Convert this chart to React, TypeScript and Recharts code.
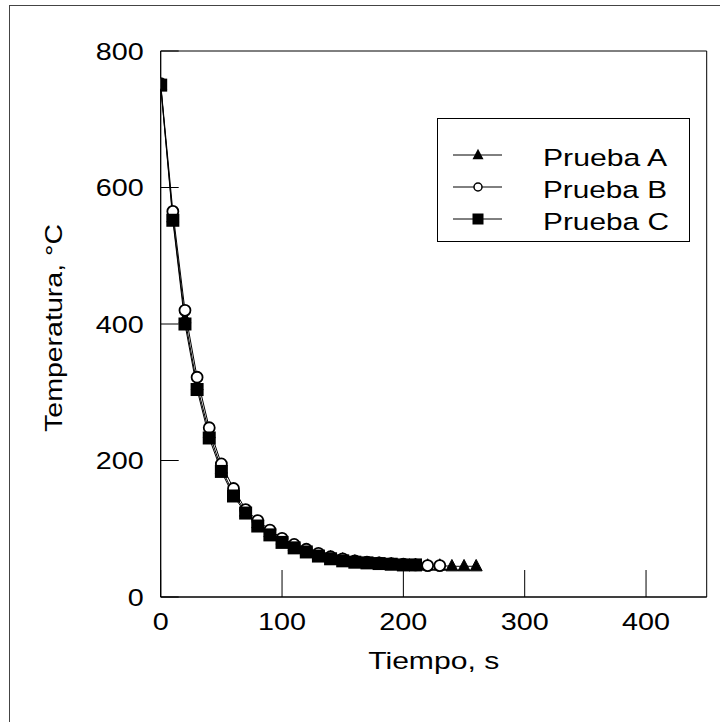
import React from 'react';
import { LineChart, Line, XAxis, YAxis, Legend, ReferenceArea } from 'recharts';

const times = [0, 10, 20, 30, 40, 50, 60, 70, 80, 90, 100, 110, 120, 130, 140, 150, 160, 170, 180, 190, 200, 210, 220, 230, 240, 250, 260];
const pruebaA = [750, 556, 408, 310, 240, 188, 152, 125, 108, 95, 84, 75, 68, 62, 58, 55, 52, 50, 49, 48, 47, 47, 46, 46, 45, 45, 45];
const pruebaB = [752, 565, 420, 322, 248, 195, 159, 128, 112, 98, 86, 77, 70, 64, 59, 56, 53, 51, 50, 49, 48, 47, 46, 46];
const pruebaC = [750, 552, 400, 304, 233, 184, 148, 123, 104, 91, 80, 72, 66, 60, 56, 53, 51, 50, 49, 48, 47, 47];
const xTicks = [0, 100, 200, 300, 400];
const yTicks = [0, 200, 400, 600, 800];
const xDomain = [0, 450];
const yDomain = [0, 800];
const seriesNames = ['Prueba A', 'Prueba B', 'Prueba C'];
const xTitle = 'Tiempo, s';
const yTitle = 'Temperatura, °C';

const data = times.map((t, i) => ({
  t,
  A: pruebaA[i] ?? null,
  B: pruebaB[i] ?? null,
  C: pruebaC[i] ?? null,
}));

const FONT = '"Liberation Sans", Arial, sans-serif';

const YTick = (props: any) => {
  const { x, y, payload } = props;
  const s = String(payload.value);
  return (
    <g>
      <line x1={x} y1={y} x2={x + 18} y2={y} stroke="#000" strokeWidth={1} />
      <text x={x - 17} y={y + 8.5} textAnchor="end" fontSize={24} fontFamily={FONT} fill="#000"
        textLength={16 * s.length} lengthAdjust="spacingAndGlyphs">{s}</text>
    </g>
  );
};

const XTick = (props: any) => {
  const { x, y, payload } = props;
  const s = String(payload.value);
  return (
    <g>
      <line x1={x} y1={y} x2={x} y2={y - 27} stroke="#000" strokeWidth={1} />
      <text x={x} y={y + 33} textAnchor="middle" fontSize={24} fontFamily={FONT} fill="#000"
        textLength={16 * s.length} lengthAdjust="spacingAndGlyphs">{s}</text>
    </g>
  );
};

const XLabel = (props: any) => {
  const vb = props.viewBox || {};
  const cx = vb.x + vb.width / 2;
  return (
    <text x={cx} y={vb.y + 72} textAnchor="middle" fontSize={24.5} fontFamily={FONT} fill="#000"
      textLength={131} lengthAdjust="spacingAndGlyphs">{xTitle}</text>
  );
};

const YLabel = (props: any) => {
  const vb = props.viewBox || {};
  const cy = vb.y + vb.height / 2 + 4;
  const bx = 61.5;
  return (
    <text x={bx} y={cy} transform={`rotate(-90, ${bx}, ${cy})`} textAnchor="middle" fontSize={24.5}
      fontFamily={FONT} fill="#000" textLength={208} lengthAdjust="spacingAndGlyphs">{yTitle}</text>
  );
};

const triangle = (cx: number, cy: number, w: number) => {
  const h = w * 0.95;
  return `${cx},${cy - h * 0.6} ${cx - w / 2},${cy + h * 0.4} ${cx + w / 2},${cy + h * 0.4}`;
};

const TriDot = (props: any) => {
  const { cx, cy, index } = props;
  if (cx == null || cy == null || props.value == null) return <g key={`a${index}`} />;
  return <polygon key={`a${index}`} points={triangle(cx, cy, 12)} fill="#000" stroke="#000" strokeWidth={1} />;
};

const CircDot = (props: any) => {
  const { cx, cy, index } = props;
  if (cx == null || cy == null || props.value == null) return <g key={`b${index}`} />;
  return <circle key={`b${index}`} cx={cx} cy={cy} r={5.5} fill="#fff" stroke="#000" strokeWidth={1.8} />;
};

const SqDot = (props: any) => {
  const { cx, cy, index } = props;
  if (cx == null || cy == null || props.value == null) return <g key={`c${index}`} />;
  return <rect key={`c${index}`} x={cx - 6.5} y={cy - 6.5} width={13} height={13} fill="#000" />;
};

const LegendBox = () => {
  const rows = [
    { name: seriesNames[0], ty: 39, ly: 37, kind: 'tri' },
    { name: seriesNames[1], ty: 71, ly: 69, kind: 'circ' },
    { name: seriesNames[2], ty: 103, ly: 101, kind: 'sq' },
  ];
  return (
    <svg width={254} height={125} style={{ display: 'block' }}>
      <rect x={0.5} y={0.5} width={252} height={123} fill="#fff" stroke="#000" strokeWidth={1} />
      {rows.map((r) => (
        <g key={r.name}>
          <line x1={16} y1={r.ly} x2={65} y2={r.ly} stroke="#000" strokeWidth={1} />
          {r.kind === 'tri' && <polygon points={triangle(41, r.ly, 11)} fill="#000" />}
          {r.kind === 'circ' && <circle cx={41} cy={r.ly} r={4} fill="#fff" stroke="#000" strokeWidth={1.5} />}
          {r.kind === 'sq' && <rect x={35.5} y={r.ly - 5.5} width={11} height={11} fill="#000" />}
          <text x={106} y={r.ty + 8.8} fontSize={24.5} fontFamily={FONT} fill="#000"
            textLength={r.kind === 'sq' ? 126 : 124} lengthAdjust="spacingAndGlyphs">{r.name}</text>
        </g>
      ))}
    </svg>
  );
};

export default function App() {
  return (
    <div style={{ position: 'absolute', left: 0, top: 0, width: 720, height: 722, background: '#fff', overflow: 'hidden' }}>
      <div style={{ position: 'absolute', left: 9, top: 5, width: 800, height: 800, borderLeft: '1px solid #444', borderTop: '1px solid #444' }} />
      <div style={{ position: 'absolute', left: 0, top: 0 }}>
        <LineChart width={720} height={722} data={data} margin={{ top: 51, right: 13.3, left: 0, bottom: 0 }}>
          <XAxis dataKey="t" type="number" domain={xDomain} ticks={xTicks} interval={0}
            allowDataOverflow height={125} tickSize={0} tickMargin={0} tickLine={false}
            axisLine={{ stroke: '#000', strokeWidth: 1 }} tick={<XTick />} label={XLabel} />
          <YAxis type="number" domain={yDomain} ticks={yTicks} interval={0} allowDataOverflow
            width={160.7} tickSize={0} tickMargin={0} tickLine={false}
            axisLine={{ stroke: '#000', strokeWidth: 1 }} tick={<YTick />} label={YLabel} />
          <ReferenceArea x1={xDomain[0]} x2={xDomain[1]} y1={yDomain[0]} y2={yDomain[1]}
            fill="none" fillOpacity={0} stroke="#000" strokeWidth={1} ifOverflow="visible" />
          <Legend layout="vertical" align="center" verticalAlign="middle" content={<LegendBox />}
            wrapperStyle={{ position: 'absolute', left: 436.7, top: 118.3, width: 254, height: 125 }} />
          <Line dataKey="A" name={seriesNames[0]} stroke="#000" strokeWidth={1}
            dot={TriDot} activeDot={false} isAnimationActive={false} legendType="triangle" />
          <Line dataKey="B" name={seriesNames[1]} stroke="#000" strokeWidth={1}
            dot={CircDot} activeDot={false} isAnimationActive={false} legendType="circle" />
          <Line dataKey="C" name={seriesNames[2]} stroke="#000" strokeWidth={1}
            dot={SqDot} activeDot={false} isAnimationActive={false} legendType="square" />
        </LineChart>
      </div>
    </div>
  );
}
